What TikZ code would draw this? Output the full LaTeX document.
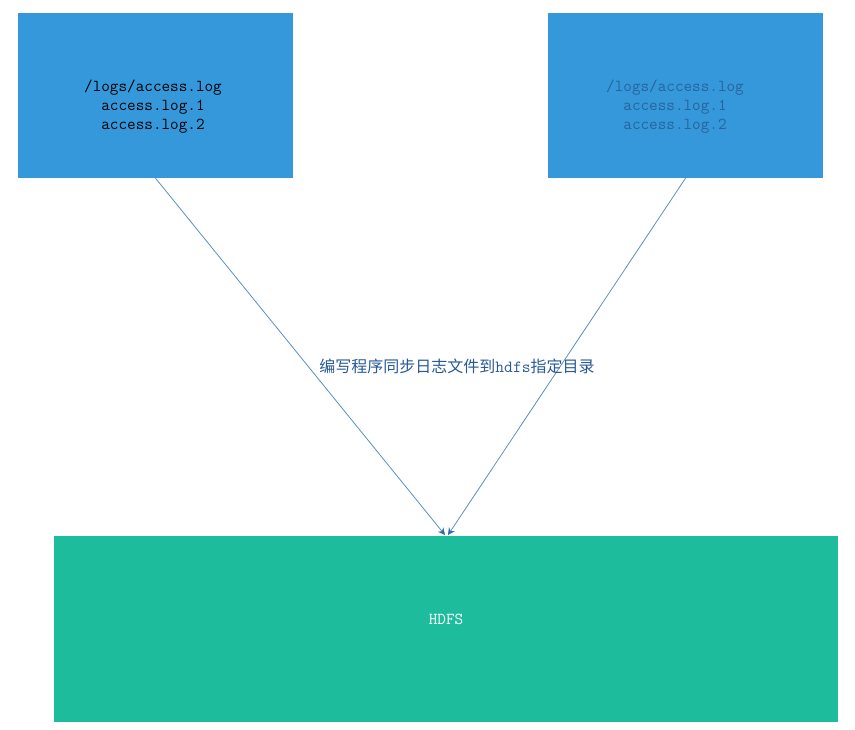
\documentclass[tikz,border=0pt]{standalone}
\usepackage{fontspec}
\newfontfamily\cjk{Noto Sans CJK SC}
\usetikzlibrary{arrows.meta}
\definecolor{boxblue}{RGB}{52,152,219}
\definecolor{hdfsgreen}{RGB}{28,188,156}
\definecolor{linecol}{RGB}{90,143,192}
\definecolor{tipcol}{RGB}{45,110,170}
\definecolor{labelcol}{RGB}{40,90,150}
\definecolor{fadetext}{RGB}{40,100,155}
\tikzset{
  srcbox/.style={fill=boxblue, draw=none, minimum width=275pt, minimum height=165pt, inner sep=0pt},
  boxtext/.style={align=center, font=\ttfamily\fontsize{16.7}{19}\selectfont, inner sep=0pt},
  conn/.style={draw=linecol, line width=0.8pt, -{Stealth[length=7pt,width=7pt,color=tipcol]}},
}
\begin{document}
\begin{tikzpicture}[x=1pt,y=-1pt]
\useasboundingbox (0,0) rectangle (855,730);
\node[srcbox] (left) at (155.5,95.5) {};
\node[srcbox] (right) at (685.5,95.5) {};
\node[boxtext, text=black] (ltext) at (153,107) {/logs/access.log\\access.log.1\\access.log.2};
\node[boxtext, text=fadetext] (rtext) at (675,107) {/logs/access.log\\access.log.1\\access.log.2};
\node[fill=hdfsgreen, draw=none, minimum width=784pt, minimum height=186pt, inner sep=0pt] (hdfs) at (446,629) {};
\node[text=white, font=\ttfamily\fontsize{16.7}{19}\selectfont, inner sep=0pt] (hdfslbl) at (446,619) {HDFS};
\coordinate (tl) at (445,535);
\coordinate (tr) at (448,535);
\draw[conn] (left.south) -- (tl);
\draw[conn] (right.south) -- (tr);
\node[text=labelcol, inner sep=0pt] (lbl) at (457,366) {\cjk\fontsize{16}{18}\selectfont 编写程序同步日志文件到{\ttfamily\fontsize{17}{18}\selectfont hdfs}指定目录};
\end{tikzpicture}
\end{document}
